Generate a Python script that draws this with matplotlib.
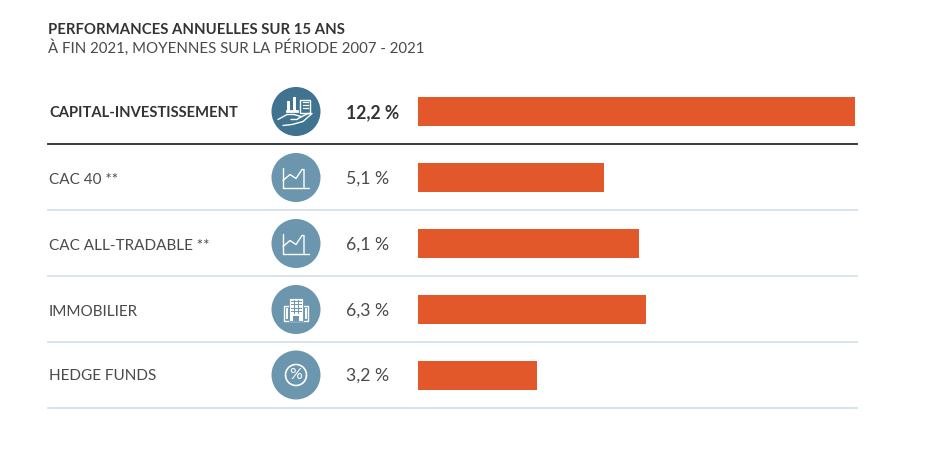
import numpy as np
import matplotlib.pyplot as plt
from matplotlib.patches import Circle, Rectangle

plt.rcParams['font.family'] = ['Lato', 'DejaVu Sans']

W, H = 936, 472

title = 'PERFORMANCES ANNUELLES SUR 15 ANS'
subtitle = 'À FIN 2021, MOYENNES SUR LA PÉRIODE 2007 - 2021'
categories = ['CAPITAL-INVESTISSEMENT', 'CAC 40 **', 'CAC ALL-TRADABLE **', 'IMMOBILIER', 'HEDGE FUNDS']
values = [12.2, 5.1, 6.1, 6.3, 3.2]
value_labels = ['12,2 %', '5,1 %', '6,1 %', '6,3 %', '3,2 %']
icons = ['hand', 'chart', 'chart', 'building', 'percent']

orange = '#e2582a'
dark_blue = '#3f7390'
light_blue = '#6b96ad'
rule_blue = '#cfdfe7'
text_col = '#4a4a4a'

fig = plt.figure(figsize=(W / 100, H / 100), dpi=100, facecolor='white')

# overlay in pixel coordinates for text, rules and icons
bg = fig.add_axes([0, 0, 1, 1])
bg.set_xlim(0, W)
bg.set_ylim(H, 0)
bg.axis('off')

row_y = [111.5, 177.5, 243.5, 309.5, 375]
rule_y = [144, 210, 276, 342, 408]
name_dy = [1.5, 2, 2, 2, 0.5]


def draw_icon(kind, cx, cy):
    white = dict(color='white', lw=1.0, solid_capstyle='round', solid_joinstyle='round')
    if kind == 'chart':
        bg.plot([cx - 13, cx - 13, cx + 13], [cy - 10, cy + 10, cy + 10], **white)
        bg.plot([cx - 13, cx - 6, cx, cx + 6, cx + 8, cx + 8],
                [cy + 3, cy - 3, cy + 1, cy - 8, cy - 8, cy + 10], **white)
    elif kind == 'building':
        # side wings
        bg.add_patch(Rectangle((cx - 12, cy - 4), 24, 15, fc='none', ec='white', lw=1.0, zorder=3))
        bg.plot([cx - 9.5, cx - 9.5], [cy - 1, cy + 8], color='white', lw=1.4, zorder=3)
        bg.plot([cx + 9.5, cx + 9.5], [cy - 1, cy + 8], color='white', lw=1.4, zorder=3)
        # main tower
        bg.add_patch(Rectangle((cx - 7, cy - 12), 14, 23, fc='white', ec=light_blue, lw=0.6, zorder=4))
        for i in range(4):
            bg.plot([cx - 5, cx + 5], [cy - 9 + i * 3.5] * 2, color=light_blue, lw=0.7, zorder=5)
        for dx in (-2, 2):
            bg.plot([cx + dx, cx + dx], [cy - 10, cy + 3], color=light_blue, lw=0.7, zorder=5)
        bg.add_patch(Rectangle((cx - 3, cy + 6), 6, 5, fc=light_blue, ec='none', zorder=5))
    elif kind == 'percent':
        bg.add_patch(Circle((cx, cy), 10.5, fc='none', ec='white', lw=1.2, zorder=3))
        bg.text(cx, cy, '%', color='white', fontsize=11.5, ha='center', va='center', zorder=4)
    elif kind == 'hand':
        bg.plot([cx - 18, cx - 9, cx - 2, cx + 5, cx + 1, cx - 5], [cy + 8, cy + 3, cy + 3, cy + 5, cy + 8, cy + 8], **white)
        bg.plot([cx + 4, cx + 12, cx + 16, cx + 7, cx - 4, cx - 13],
                [cy + 6, cy + 2, cy + 2, cy + 10, cy + 13, cy + 14], **white)
        bg.add_patch(Rectangle((cx + 4, cy - 12), 10, 13, fc='none', ec='white', lw=1.0))
        for i in range(3):
            bg.plot([cx + 6.5, cx + 11.5], [cy - 9.5 + i * 3.2] * 2, color='white', lw=0.9)
        bg.add_patch(Rectangle((cx - 9, cy - 11), 3, 10, fc='white', ec='none'))
        bg.add_patch(Rectangle((cx - 3, cy - 15), 3, 14, fc='white', ec='none'))
        bg.plot([cx - 9, cx + 1], [cy - 1, cy - 1], color='white', lw=2)


bg.text(48, 30.5, title, fontsize=10.7, fontweight='bold', color='#333333', va='center')
bg.text(48, 48, subtitle, fontsize=10.85, color=text_col, va='center')

for i, (name, label, icon, y0, ry, dy) in enumerate(zip(categories, value_labels, icons, row_y, rule_y, name_dy)):
    top = i == 0
    bg.text(49, y0 + dy, name, fontsize=10.6 if top else 11, color='#333333' if top else text_col,
            fontweight='bold' if top else 'normal', va='center')
    bg.text(346, y0 + 1, label, fontsize=12.7, color='#333333' if top else text_col,
            fontweight='bold' if top else 'normal', va='center')
    bg.add_patch(Circle((296, y0), 24.5, fc=dark_blue if top else light_blue, ec='none'))
    draw_icon(icon, 296, y0)
    bg.plot([48, 857], [ry, ry], color='#2b2b2b' if top else rule_blue, lw=1.3 if top else 1.2)

# bars on their own axis: they start a bit left of value 0
px_per_unit = 35.35
bar_start = -0.161
bar_left_px = 418
ax = fig.add_axes([bar_left_px / W, 0, (W - bar_left_px) / W, 1])
ax.set_xlim(bar_start, bar_start + (W - bar_left_px) / px_per_unit)
ax.set_ylim(H, 0)
ax.axis('off')
ax.patch.set_alpha(0)
ax.barh(row_y, np.array(values) - bar_start, left=bar_start, height=29, color=orange)

fig.savefig('out.png', dpi=100)
